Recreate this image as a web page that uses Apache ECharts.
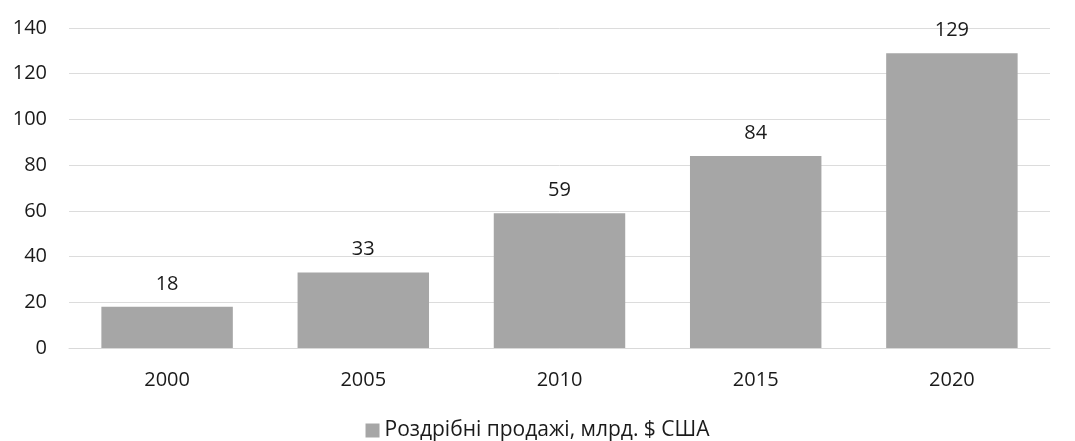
<!DOCTYPE html>
<html>
<head>
<meta charset="utf-8">
<script src="https://cdn.jsdelivr.net/npm/echarts@6/dist/echarts.min.js"></script>
<style>
  html, body { margin: 0; padding: 0; background: #fff; }
  #chart { width: 1075px; height: 441px; }
</style>
</head>
<body>
<div id="chart"></div>
<script>
// chart data
var years = ['2000', '2005', '2010', '2015', '2020']
var sales = [18, 33, 59, 84, 129]
var seriesName = 'Роздрібні продажі, млрд. $ США'

var chart = echarts.init(document.getElementById('chart'))
var font = '"Open Sans", "Noto Sans", sans-serif'

var option = {
  animation: false,
  backgroundColor: '#fff',
  grid: {
    left: 69,
    right: 25,
    top: 28,
    bottom: 93
  },
  legend: {
    bottom: -5,
    left: 'center',
    itemWidth: 14,
    itemHeight: 14,
    icon: 'rect',
    itemGap: 8,
    textStyle: {
      color: '#1a1a1a',
      fontSize: 21,
      fontFamily: font
    },
    data: [seriesName]
  },
  xAxis: {
    type: 'category',
    data: years,
    axisLine: { lineStyle: { color: '#d9d9d9', width: 1 } },
    axisTick: { show: false },
    axisLabel: {
      color: '#1a1a1a',
      fontSize: 20,
      fontFamily: font,
      margin: 22
    }
  },
  yAxis: {
    type: 'value',
    min: 0,
    max: 140,
    interval: 20,
    axisLine: { show: false },
    axisTick: { show: false },
    axisLabel: {
      color: '#1a1a1a',
      fontSize: 20,
      fontFamily: font,
      margin: 22
    },
    splitLine: { lineStyle: { color: '#dcdcdc', width: 1 } }
  },
  series: [{
    name: seriesName,
    type: 'bar',
    data: sales,
    barCategoryGap: '33%',
    itemStyle: { color: '#a6a6a6' },
    label: {
      show: true,
      position: 'top',
      distance: 13,
      color: '#1a1a1a',
      fontSize: 20,
      fontFamily: font
    }
  }]
}
chart.setOption(option)
</script>
</body>
</html>
